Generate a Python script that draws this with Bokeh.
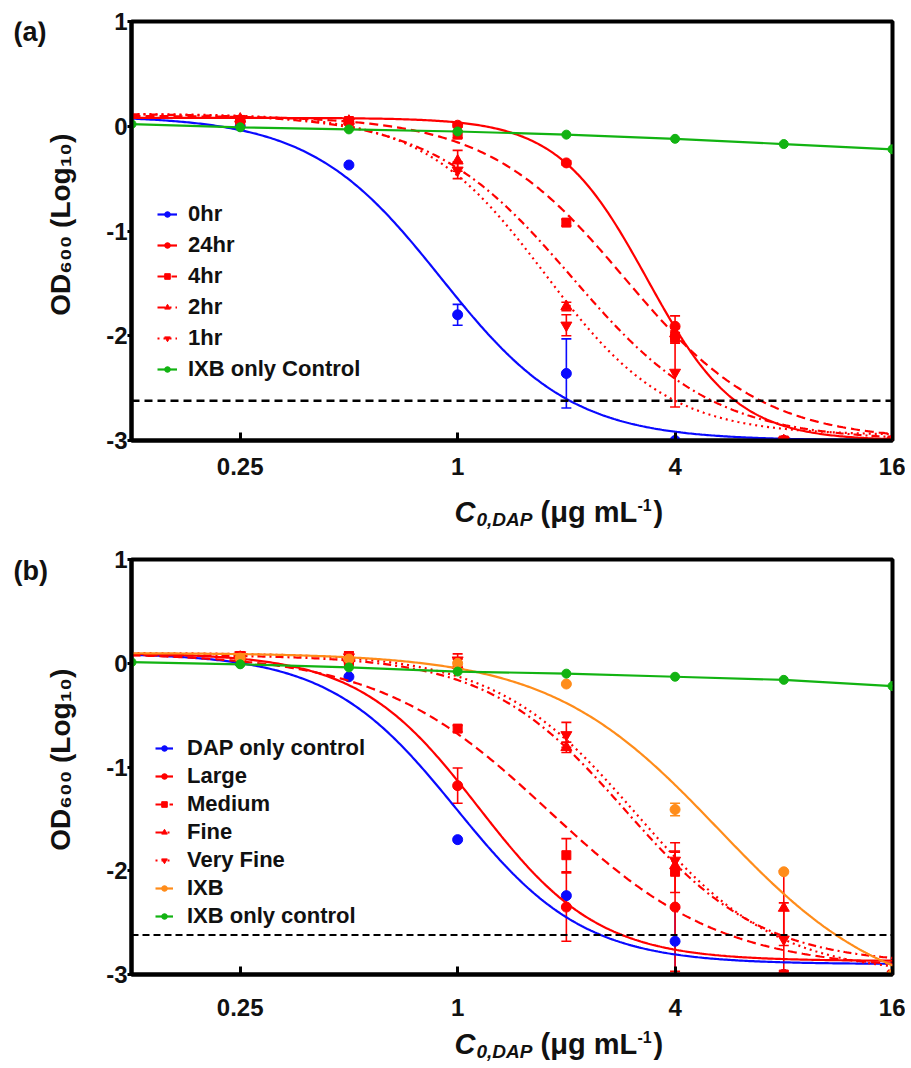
import numpy as np
from bokeh.plotting import figure
from bokeh.models import (ColumnDataSource, Whisker, TeeHead, Legend, LegendItem,
                          Label, Span, FixedTicker, NumeralTickFormatter, Range1d)
from bokeh.layouts import column, row
from bokeh.embed import file_html
from bokeh.resources import INLINE

# ---------------- data ----------------
conc = [0.25, 0.5, 1, 2, 4, 8, 16]
conc_ctrl = [0.125, 0.25, 0.5, 1, 2, 4, 8, 16]
x_ticks = [0.25, 1, 4, 16]
y_ticks = [-3, -2, -1, 0, 1]
y_tick_labels = ["-3", "-2", "-1", "0", "1"]
detection_limit = -2.62

# Panel (a): exposure time
a_names = ["0hr", "24hr", "4hr", "2hr", "1hr", "IXB only Control"]
a_0hr = [0.00, -0.37, -1.80, -2.36, -3.00, -3.00, -3.00]
a_0hr_err = [0, 0, 0.10, 0.33, 0, 0, 0]
a_24hr = [0.05, 0.04, 0.01, -0.35, -1.91, -3.00, -3.00]
a_24hr_err = [0, 0, 0.02, 0.02, 0.10, 0, 0]
a_4hr = [0.06, 0.05, -0.08, -0.92, -2.02, -3.00, -3.00]
a_4hr_err = [0, 0, 0.03, 0.03, 0.05, 0, 0]
a_2hr = [0.07, 0.05, -0.33, -1.72, -1.98, -3.00, -3.00]
a_2hr_err = [0, 0, 0.10, 0.04, 0.05, 0, 0]
a_1hr = [0.07, 0.04, -0.42, -1.90, -2.35, -3.00, -3.00]
a_1hr_err = [0, 0, 0.08, 0.10, 0.33, 0, 0]
a_ctrl = [0.02, -0.01, -0.03, -0.05, -0.08, -0.12, -0.17, -0.22]
# fitted dose-response (4PL) parameters: top, bottom, EC50, Hill slope
a_fit_0hr = [0.10, -3.00, 0.90, 2.40]
a_fit_24hr = [0.08, -3.00, 3.35, 3.50]
a_fit_4hr = [0.10, -3.00, 2.90, 2.27]
a_fit_2hr = [0.12, -3.00, 2.07, 2.21]
a_fit_1hr = [0.12, -2.95, 1.75, 2.56]

# Panel (b): particle size
b_names = ["DAP only control", "Large", "Medium", "Fine", "Very Fine", "IXB", "IXB only control"]
b_dap = [0.00, -0.13, -1.70, -2.24, -2.68, -3.00, -3.00]
b_dap_err = [0, 0, 0, 0, 0.32, 0, 0]
b_large = [0.05, 0.02, -1.18, -2.35, -2.35, -3.00, -3.00]
b_large_err = [0, 0.04, 0.17, 0.33, 0.62, 0, 0]
b_medium = [0.07, 0.03, -0.63, -1.85, -2.01, -3.00, -3.00]
b_medium_err = [0, 0.04, 0.03, 0.16, 0.20, 0, 0]
b_fine = [0.06, 0.05, -0.02, -0.81, -1.95, -2.36, -3.00]
b_fine_err = [0, 0.05, 0.06, 0.05, 0, 0.36, 0]
b_vfine = [0.08, 0.06, 0.03, -0.69, -1.90, -2.66, -3.00]
b_vfine_err = [0, 0.05, 0.06, 0.12, 0.08, 0.35, 0]
b_ixb = [0.05, 0.04, 0.00, -0.20, -1.41, -2.01, -3.00]
b_ixb_err = [0, 0, 0, 0, 0.06, 0, 0]
b_ctrl = [0.01, -0.01, -0.04, -0.08, -0.10, -0.13, -0.16, -0.22]
b_fit_dap = [0.10, -2.90, 0.99, 2.46]
b_fit_large = [0.10, -2.87, 1.14, 2.60]
b_fit_medium = [0.10, -2.95, 1.79, 1.83]
b_fit_fine = [0.08, -2.90, 2.90, 2.28]
b_fit_vfine = [0.10, -3.00, 3.12, 2.23]
b_fit_ixb = [0.10, -3.30, 5.28, 1.85]

# ---------------- styles ----------------
BLUE = "#0a0aff"
RED = "#ff0000"
GREEN = "#12b312"
ORANGE = "#ff8c1a"
TEXT = "#111111"
FONT = "Liberation Sans"

DASH_SOLID = "solid"
DASH_DASHED = "9 5"
DASH_DASHDOT = "8 4 2 4"
DASH_DOTTED = "2 4"

LEFT_W = 95      # width of the strip holding the panel tag and y-axis title
TOTAL_W = 905


def fourpl(x, params):
    top, bottom, ec50, hill = params
    return bottom + (top - bottom) / (1.0 + (x / ec50) ** hill)


x_fit = np.geomspace(0.125, 16, 400)


def text_fig(width, height, y_range):
    f = figure(width=width, height=height, x_range=Range1d(0, width),
               y_range=y_range, x_axis_location=None,
               y_axis_location=None, output_backend="svg",
               toolbar_location=None, title_location=None, min_border=0)
    f.min_border_top = 0
    f.min_border_bottom = 0
    f.min_border_left = 0
    f.min_border_right = 0
    f.outline_line_color = None
    f.grid.visible = False
    return f


def add_text(f, x, y, txt, size, style="bold", align="left", angle=0):
    f.add_layout(Label(x=x, y=y, text=txt, text_font=FONT, text_font_size=size,
                       text_font_style=style, text_color=TEXT, text_align=align,
                       text_baseline="middle", angle=angle, angle_units="deg"))


def make_fig(height, top_border, bottom_border, label_standoff):
    p = figure(width=TOTAL_W - LEFT_W, height=height, x_axis_type="log",
               x_range=Range1d(0.125, 16), y_range=Range1d(-3, 1),
               output_backend="svg", toolbar_location=None, title_location=None,
               min_border_left=131 - LEFT_W, min_border_right=TOTAL_W - 892,
               min_border_top=top_border, min_border_bottom=bottom_border)
    p.xgrid.visible = False
    p.ygrid.visible = False
    p.outline_line_color = "black"
    p.outline_line_width = 4
    p.xaxis.ticker = FixedTicker(ticks=x_ticks)
    p.xaxis.formatter = NumeralTickFormatter(format="0.[00]")
    p.yaxis.ticker = FixedTicker(ticks=y_ticks)
    p.yaxis.major_label_overrides = dict(zip(y_ticks, y_tick_labels))
    for ax in (p.xaxis[0], p.yaxis[0]):
        ax.axis_line_width = 4
        ax.axis_line_color = "black"
        ax.major_tick_line_width = 3
        ax.minor_tick_line_color = None
        ax.major_label_text_font = FONT
        ax.major_label_text_font_style = "bold"
        ax.major_label_text_font_size = "24px"
        ax.major_label_text_color = TEXT
    p.xaxis.major_tick_in = 8
    p.xaxis.major_tick_out = 0
    p.xaxis.major_label_standoff = label_standoff
    p.yaxis.major_tick_in = 0
    p.yaxis.major_tick_out = 4
    p.yaxis.major_label_standoff = 0
    return p


def add_series(p, xs, ys, errs, params, color, dash, marker, msize):
    r_line = p.line(x_fit, fourpl(x_fit, params), line_color=color,
                    line_width=2.2, line_dash=dash)
    r_pts = p.scatter(xs, ys, marker=marker, size=msize, fill_color=color,
                      line_color=color)
    ex = [x for x, e in zip(xs, errs) if e > 0]
    ey = [y for y, e in zip(ys, errs) if e > 0]
    ee = [e for e in errs if e > 0]
    if ex:
        src = ColumnDataSource(dict(x=ex, upper=[y + e for y, e in zip(ey, ee)],
                                    lower=[y - e for y, e in zip(ey, ee)]))
        w = Whisker(source=src, base="x", upper="upper", lower="lower",
                    line_color=color, line_width=1.6,
                    upper_head=TeeHead(size=10, line_color=color, line_width=1.6),
                    lower_head=TeeHead(size=10, line_color=color, line_width=1.6))
        p.add_layout(w)
    return [r_line, r_pts]


def add_control(p, ys, color):
    r_line = p.line(conc_ctrl, ys, line_color=color, line_width=2.2)
    r_pts = p.scatter(conc_ctrl, ys, marker="circle", size=9, fill_color=color,
                      line_color=color)
    return [r_line, r_pts]


def add_legend(p, items, loc, fs, lh, spacing, gw, standoff):
    leg = Legend(items=[LegendItem(label=n, renderers=r) for n, r in items],
                 location=loc, label_text_font=FONT, label_text_font_style="bold",
                 label_text_font_size=fs, label_text_color=TEXT,
                 label_height=lh, glyph_height=14, glyph_width=gw,
                 label_standoff=standoff, spacing=spacing, padding=0, margin=0,
                 border_line_color=None, background_fill_alpha=0)
    p.add_layout(leg)


def x_title(height, mid):
    # mid: vertical centre of the main text, in pixels from the strip's bottom
    f = text_fig(TOTAL_W, height, Range1d(0, height))
    add_text(f, 454, mid, "C", "29px", "bold italic")
    add_text(f, 476, mid - 8, "0,DAP", "19px", "bold italic")
    add_text(f, 540, mid, "(\u03bcg mL", "29px")
    add_text(f, 637, mid + 7, "-1", "16px")
    add_text(f, 653, mid, ")", "29px")
    return f


def left_strip(height, tag, tag_y, label_y):
    # this strip's frame is aligned with the neighbouring plot frame, so it
    # shares that plot's y range
    f = text_fig(LEFT_W, height, Range1d(-3, 1))
    add_text(f, 13, tag_y, tag, "27px")
    add_text(f, 60, label_y, "OD\u2086\u2080\u2080 (Log\u2081\u2080)", "28px",
             align="center", angle=90)
    return f


# ---------------- panel (a) ----------------
HA = 490
pa = make_fig(HA, 21, 50, 17)
ra = []
ra.append(add_series(pa, conc, a_0hr, a_0hr_err, a_fit_0hr, BLUE, DASH_SOLID, "circle", 10))
ra.append(add_series(pa, conc, a_24hr, a_24hr_err, a_fit_24hr, RED, DASH_SOLID, "circle", 10))
ra.append(add_series(pa, conc, a_4hr, a_4hr_err, a_fit_4hr, RED, DASH_DASHED, "square", 9))
ra.append(add_series(pa, conc, a_2hr, a_2hr_err, a_fit_2hr, RED, DASH_DASHDOT, "triangle", 11))
ra.append(add_series(pa, conc, a_1hr, a_1hr_err, a_fit_1hr, RED, DASH_DOTTED, "inverted_triangle", 11))
ra.append(add_control(pa, a_ctrl, GREEN))
pa.add_layout(Span(location=detection_limit, dimension="width", line_color="black",
                   line_width=2.5, line_dash="8 5"))
add_legend(pa, list(zip(a_names, ra)), (26, 58), "22px", 24, 5, 20, 11)
left_a = left_strip(HA, "(a)", 0.9, -0.94)
xt_a = x_title(45, 24)

# ---------------- panel (b) ----------------
HB = 487
pb = make_fig(HB, 24, 48, 24)
rb = []
rb.append(add_series(pb, conc, b_dap, b_dap_err, b_fit_dap, BLUE, DASH_SOLID, "circle", 10))
rb.append(add_series(pb, conc, b_large, b_large_err, b_fit_large, RED, DASH_SOLID, "circle", 10))
rb.append(add_series(pb, conc, b_medium, b_medium_err, b_fit_medium, RED, DASH_DASHED, "square", 9))
rb.append(add_series(pb, conc, b_fine, b_fine_err, b_fit_fine, RED, DASH_DASHDOT, "triangle", 11))
rb.append(add_series(pb, conc, b_vfine, b_vfine_err, b_fit_vfine, RED, DASH_DOTTED, "inverted_triangle", 11))
rb.append(add_series(pb, conc, b_ixb, b_ixb_err, b_fit_ixb, ORANGE, DASH_SOLID, "circle", 10))
rb.append(add_control(pb, b_ctrl, GREEN))
pb.add_layout(Span(location=detection_limit, dimension="width", line_color="black",
                   line_width=2, line_dash="7 4"))
add_legend(pb, list(zip(b_names, rb)), (24, 45), "22px", 24, 2, 18, 14)
left_b = left_strip(HB, "(b)", 0.885, -0.93)
xt_b = x_title(44, 23)

layout = column(row(left_a, pa), xt_a, row(left_b, pb), xt_b)
open("out.html", "w").write(file_html(layout, INLINE))
